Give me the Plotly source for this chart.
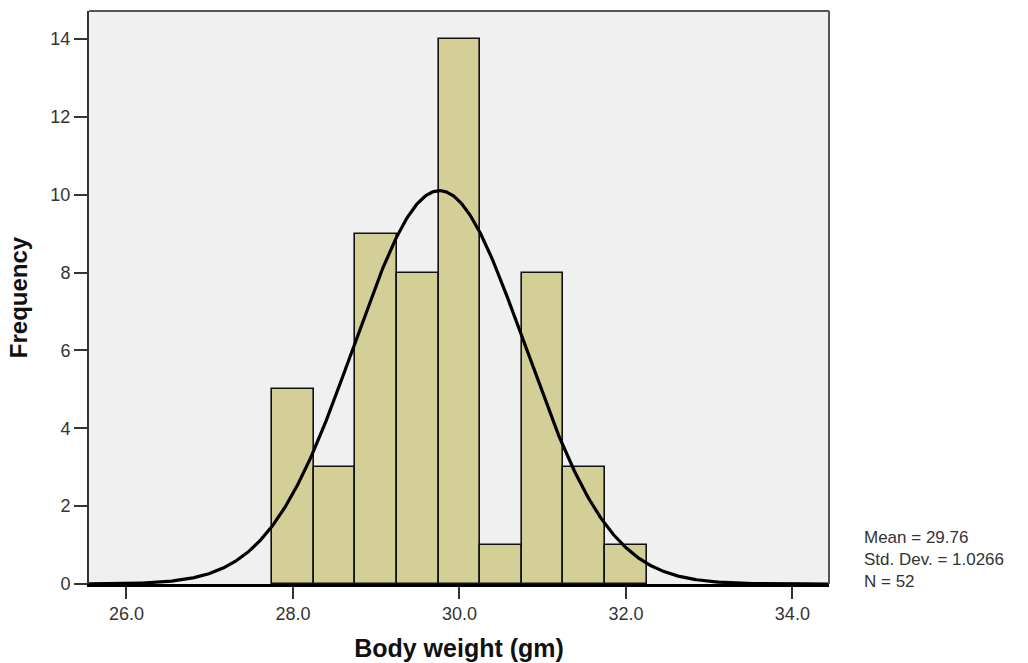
import numpy as np
import plotly.graph_objects as go

# Histogram data (bin centres, bin width 0.5)
bin_centers = [28.0, 28.5, 29.0, 29.5, 30.0, 30.5, 31.0, 31.5, 32.0]
frequencies = [5, 3, 9, 8, 14, 1, 8, 3, 1]
bin_width = 0.5

# Summary statistics (as printed on the chart)
mean_val = 29.76
std_val = 1.0266
n_val = 52

x_ticks = [26.0, 28.0, 30.0, 32.0, 34.0]
y_ticks = [0, 2, 4, 6, 8, 10, 12, 14]

x_range = [25.55, 34.44]
y_range = [0, 14.72]

# Fitted normal curve from the printed mean / std. dev. / N
xc = np.linspace(x_range[0], x_range[1], 600)
yc = n_val * bin_width * np.exp(-0.5 * ((xc - mean_val) / std_val) ** 2) / (std_val * np.sqrt(2 * np.pi))

fig = go.Figure()
fig.add_trace(go.Bar(
    x=bin_centers, y=frequencies, width=[bin_width] * len(bin_centers),
    marker=dict(color="#d4cf97", line=dict(color="#111111", width=1.6)),
    hoverinfo="x+y", showlegend=False,
))
fig.add_trace(go.Scatter(
    x=xc, y=yc, mode="lines", line=dict(color="#000000", width=3.2),
    hoverinfo="skip", showlegend=False,
))

fig.update_layout(
    width=1028, height=663,
    margin=dict(l=89, r=199, t=11, b=79),
    paper_bgcolor="white", plot_bgcolor="#f0f0f0",
    bargap=0,
    font=dict(family="Liberation Sans, Arial, sans-serif", color="#333333"),
    xaxis=dict(
        range=x_range, tickvals=x_ticks, ticktext=[f"{v:.1f}" for v in x_ticks],
        showgrid=False, zeroline=False, automargin=False,
        showline=True, linecolor="#000000", linewidth=2.5,
        ticks="outside", ticklen=12, tickwidth=2, tickcolor="#333333",
        tickfont=dict(size=18, color="#333333"),
        title=dict(text="<b>Body weight (gm)</b>", font=dict(size=25, color="#111111"), standoff=17),
    ),
    yaxis=dict(
        range=y_range, tickvals=y_ticks,
        showgrid=False, zeroline=False, automargin=False,
        showline=True, linecolor="#333333", linewidth=2,
        ticks="outside", ticklen=13, tickwidth=2, tickcolor="#333333",
        tickfont=dict(size=18, color="#333333"),
        title=dict(text="<b>Frequency</b>", font=dict(size=24, color="#111111"), standoff=16),
    ),
    shapes=[
        dict(type="line", xref="paper", yref="paper", x0=0, x1=1, y0=1, y1=1,
             line=dict(color="#555555", width=2)),
        dict(type="line", xref="paper", yref="paper", x0=1, x1=1, y0=0, y1=1,
             line=dict(color="#555555", width=2)),
    ],
    annotations=[
        dict(xref="paper", yref="paper", x=1.0, y=0.045, xshift=33, yshift=-1,
             xanchor="left", yanchor="middle", align="left", showarrow=False,
             text=f"Mean = {mean_val:.2f}<br>Std. Dev. = {std_val:.4f}<br>N = {n_val}",
             font=dict(size=17, color="#333333")),
    ],
)

fig.write_html("out.html")
